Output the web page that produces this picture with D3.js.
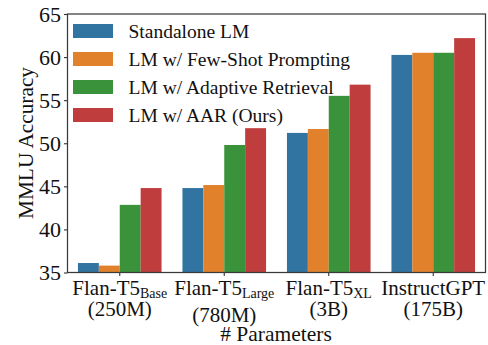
<!DOCTYPE html>
<html>
<head>
<meta charset="utf-8">
<script src="https://cdn.jsdelivr.net/npm/d3@7"></script>
<style>
    body { margin: 0; background: #fff; }
    svg { display: block; font-family: "Liberation Serif", "Times New Roman", serif; }
</style>
</head>
<body>
<div class="container"></div>
<script>
const width = 488;
const height = 345;
const margin = { top: 14, right: 2.5, bottom: 72.5, left: 67.5 };

// data
const modelNames = ['Flan-T5', 'Flan-T5', 'Flan-T5', 'InstructGPT'];
const modelSubs = ['Base', 'Large', 'XL', ''];
const modelParams = ['(250M)', '(780M)', '(3B)', '(175B)'];
const seriesNames = ['Standalone LM', 'LM w/ Few-Shot Prompting', 'LM w/ Adaptive Retrieval', 'LM w/ AAR (Ours)'];
const standalone = [36.1, 44.8, 51.2, 60.25];
const fewShot = [35.8, 45.15, 51.65, 60.5];
const adaptive = [42.85, 49.8, 55.5, 60.5];
const aar = [44.8, 51.75, 56.8, 62.2];
const yTicks = [35, 40, 45, 50, 55, 60, 65];
const colors = ['#3274a1', '#e1812c', '#3a923a', '#c03d3e'];

const seriesValues = [standalone, fewShot, adaptive, aar];
const groups = modelNames.map((d, i) => i);

const svg = d3.select('.container')
    .append('svg')
    .attr('width', width)
    .attr('height', height);

const x = d3.scaleBand()
    .domain(groups)
    .range([margin.left, width - margin.right])
    .padding(0);
const xInner = d3.scaleBand()
    .domain(d3.range(seriesNames.length))
    .range([x.bandwidth() * 0.1, x.bandwidth() * 0.9]);
const y = d3.scaleLinear()
    .domain([35, 65])
    .range([height - margin.bottom, margin.top]);

// bars
const bars = [];
groups.forEach(g => {
    seriesValues.forEach((vals, s) => bars.push({ g, s, v: vals[g] }));
});
svg.append('g')
    .selectAll('rect')
    .data(bars)
    .enter()
    .append('rect')
    .attr('x', d => x(d.g) + xInner(d.s))
    .attr('width', xInner.bandwidth())
    .attr('y', d => y(d.v))
    .attr('height', d => y(35) - y(d.v))
    .attr('fill', d => colors[d.s]);

// y axis
const yAxis = svg.append('g')
    .attr('transform', `translate(${margin.left},0)`)
    .call(d3.axisLeft(y).tickValues(yTicks).tickSize(3.5).tickPadding(3));
yAxis.select('.domain').remove();
yAxis.selectAll('line').attr('stroke', '#333').attr('stroke-width', 1.1);
yAxis.selectAll('text')
    .attr('font-size', 22)
    .attr('fill', '#111')
    .attr('font-family', '"Liberation Serif", serif');

// x axis ticks
const xAxis = svg.append('g')
    .attr('transform', `translate(0,${height - margin.bottom})`)
    .call(d3.axisBottom(x).tickSize(3.5).tickFormat(''));
xAxis.select('.domain').remove();
xAxis.selectAll('line').attr('stroke', '#333').attr('stroke-width', 1.1);

// two-line tick labels with subscripts
const labels = svg.append('g')
    .selectAll('g')
    .data(groups)
    .enter()
    .append('g')
    .attr('transform', g => `translate(${x(g) + x.bandwidth() / 2},0)`);

const line1 = labels.append('text')
    .attr('y', 295)
    .attr('text-anchor', 'middle')
    .attr('font-size', 21)
    .attr('fill', '#111');
line1.append('tspan').text(g => modelNames[g]);
line1.append('tspan')
    .attr('font-size', 14)
    .attr('dy', 3)
    .text(g => modelSubs[g]);

labels.append('text')
    .attr('y', g => /[gjpqy]/.test(modelSubs[g]) ? 321.5 : 316)
    .attr('text-anchor', 'middle')
    .attr('font-size', 21)
    .attr('fill', '#111')
    .text(g => modelParams[g]);

// frame
svg.append('rect')
    .attr('x', margin.left)
    .attr('y', margin.top)
    .attr('width', width - margin.left - margin.right)
    .attr('height', height - margin.top - margin.bottom)
    .attr('fill', 'none')
    .attr('stroke', '#3a3a3a')
    .attr('stroke-width', 1.25);

// axis titles
svg.append('text')
    .attr('x', 276)
    .attr('y', 341)
    .attr('text-anchor', 'middle')
    .attr('font-size', 21.5)
    .attr('fill', '#111')
    .text('# Parameters');

svg.append('text')
    .attr('transform', 'translate(33,143) rotate(-90)')
    .attr('text-anchor', 'middle')
    .attr('font-size', 21.3)
    .attr('fill', '#111')
    .text('MMLU Accuracy');

// legend
const legend = svg.append('g')
    .selectAll('g')
    .data(seriesNames)
    .enter()
    .append('g')
    .attr('transform', (d, i) => `translate(73,${24 + i * 28})`);
legend.append('rect')
    .attr('width', 40)
    .attr('height', 14)
    .attr('fill', (d, i) => colors[i]);
legend.append('text')
    .attr('x', 55.5)
    .attr('y', 14.3)
    .attr('font-size', 19.5)
    .attr('fill', '#111')
    .text(d => d);
</script>
</body>
</html>
